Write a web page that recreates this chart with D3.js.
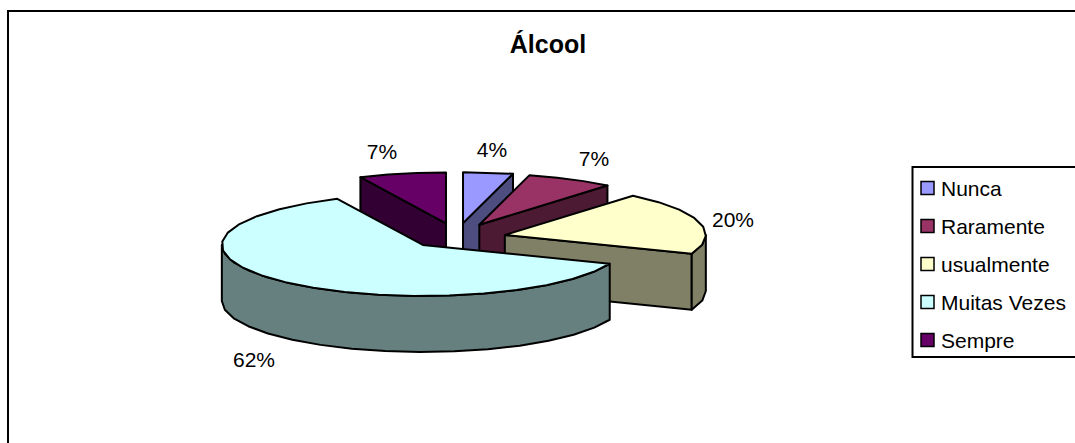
<!DOCTYPE html>
<html>
<head>
<meta charset="utf-8">
<script src="https://cdn.jsdelivr.net/npm/d3@7/dist/d3.min.js"></script>
<style>
  html, body { margin: 0; padding: 0; background: #fff; overflow: hidden; }
  svg { display: block; font-family: "Liberation Sans", Arial, sans-serif; }
</style>
</head>
<body>
<svg id="chart" width="1075" height="443"></svg>
<script>
// Alcohol consumption frequency shown as an exploded 3D pie
const chartTitle = "Álcool";
const categories = ["Nunca", "Raramente", "usualmente", "Muitas Vezes", "Sempre"];
const shares = [4, 7, 20, 62, 7];
const topColors = ["#9999FF", "#993366", "#FFFFCC", "#CCFFFF", "#660066"];

const W = 1075, H = 443;
const svg = d3.select("#chart");

// Oblique view of the pie: centre, radii, wall height and slice explosion
const view = { cx: 456.8, cy: 239, rx: 201, ry: 51, depth: 56, explodeX: 49.6, explodeFar: 16, explodeNear: 8.2 };

const pieLayout = d3.pie().value(d => d).sort(null);
const arcs = pieLayout(shares).map((a, i) => ({ ...a, i }));

// Origin of a slice after it is pulled away from the centre
function apexOf(a) {
  const mid = (a.startAngle + a.endAngle) / 2;
  const c = Math.cos(mid), s = Math.sin(mid);
  return [view.cx + view.explodeX * s, view.cy - (c > 0 ? view.explodeFar : view.explodeNear) * c];
}
// Rim point of a slice at a given pie angle
function rim(apex, t) {
  return [apex[0] + view.rx * Math.sin(t), apex[1] - view.ry * Math.cos(t)];
}
const drop = p => [p[0], p[1] + view.depth];
const line = d3.line();

// The rim is a coarse polyline, sampled every few degrees
function rimAngles(t0, t1) {
  const step = 10 * Math.PI / 180;
  const n = Math.max(1, Math.round((t1 - t0) / step));
  return d3.range(n + 1).map(k => t0 + (t1 - t0) * k / n);
}

function dimmed(col) {
  const c = d3.rgb(col);
  return d3.rgb(c.r / 2, c.g / 2, c.b / 2).formatHex();
}

const g = svg.append("g");

// Chart frame runs past the right and bottom of the page
g.append("rect").attr("x", 8).attr("y", 11).attr("width", W + 20).attr("height", H + 20)
  .attr("fill", "#fff").attr("stroke", "#000").attr("stroke-width", 2);

// Back slices first, the large near slice last
const paintOrder = [0, 1, 4, 2, 3];
paintOrder.forEach(idx => {
  const a = arcs[idx];
  const apex = apexOf(a);
  const top = topColors[idx], side = dimmed(top);
  const sg = g.append("g").attr("stroke", "#000").attr("stroke-width", 2).attr("stroke-linejoin", "round");

  const walls = [];
  if (Math.sin(a.startAngle) < -1e-6) walls.push(a.startAngle);
  if (Math.sin(a.endAngle) > 1e-6) walls.push(a.endAngle);
  walls.forEach(t => {
    const tip = rim(apex, t);
    sg.append("path").attr("fill", side)
      .attr("d", line([apex, tip, drop(tip), drop(apex)]) + "Z");
  });

  // Outer wall only where the rim faces the viewer
  const w0 = Math.max(a.startAngle, Math.PI / 2), w1 = Math.min(a.endAngle, 3 * Math.PI / 2);
  if (w1 > w0) {
    const pts = rimAngles(w0, w1).map(t => rim(apex, t));
    sg.append("path").attr("fill", side)
      .attr("d", line(pts.concat(pts.map(drop).reverse())) + "Z");
  }

  const topPts = [apex].concat(rimAngles(a.startAngle, a.endAngle).map(t => rim(apex, t)));
  sg.append("path").attr("fill", top).attr("d", line(topPts) + "Z");
});

// Percentage labels beside each slice
const labelAt = [
  [492, 157], [594, 166], [733, 227], [254, 367], [382, 159]
];
g.append("g").selectAll("text").data(arcs).join("text")
  .attr("x", d => labelAt[d.i][0]).attr("y", d => labelAt[d.i][1])
  .attr("text-anchor", "middle").attr("font-size", 21).attr("fill", "#000")
  .text(d => Math.round(d.value) + "%");

// Title
g.append("text").attr("x", 548).attr("y", 53).attr("text-anchor", "middle")
  .attr("font-size", 25).attr("font-weight", "bold").text(chartTitle);

// Legend, clipped by the page edge on its right
const legend = g.append("g");
legend.append("rect").attr("x", 912.5).attr("y", 167).attr("width", 200).attr("height", 190)
  .attr("fill", "#fff").attr("stroke", "#000").attr("stroke-width", 2);
const rowY = d3.scalePoint().domain(categories).range([188, 340]);
const rows = legend.selectAll("g").data(categories).join("g")
  .attr("transform", d => `translate(0,${rowY(d)})`);
rows.append("rect").attr("x", 921).attr("y", -6.5).attr("width", 13).attr("height", 13)
  .attr("fill", (d, i) => topColors[i]).attr("stroke", "#000").attr("stroke-width", 1.5);
rows.append("text").attr("x", 941).attr("y", 7.5).attr("font-size", 21).text(d => d);
</script>
</body>
</html>
